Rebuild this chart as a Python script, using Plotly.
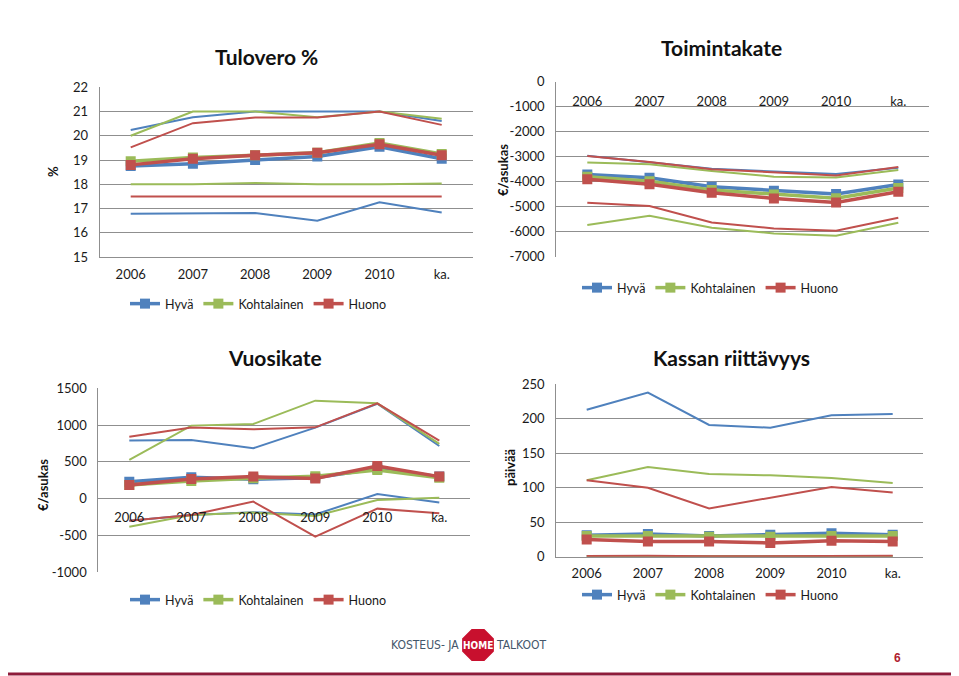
import math
import plotly.graph_objects as go

# The page body has an 8px default margin, so the figure is made 8px smaller
# and every placement below is given in window pixels, shifted by OFF.
WIN_W, WIN_H = 959, 676
OFF = 8
W, H = WIN_W - OFF, WIN_H - OFF
FONT = "Lato, 'Open Sans', sans-serif"

years = ["2006", "2007", "2008", "2009", "2010", "ka."]
groups = ["Hyvä", "Kohtalainen", "Huono"]
colors = {"Hyvä": "#4F81BD", "Kohtalainen": "#9BBB59", "Huono": "#C0504D"}

# ---- Tulovero % ----
tulo_ticks = [15, 16, 17, 18, 19, 20, 21, 22]
tulo_med = {
    "Hyvä": [18.75, 18.85, 19.0, 19.15, 19.55, 19.05],
    "Kohtalainen": [18.95, 19.1, 19.2, 19.3, 19.7, 19.25],
    "Huono": [18.8, 19.05, 19.2, 19.3, 19.65, 19.2],
}
tulo_hi = {
    "Hyvä": [20.24, 20.76, 21.0, 21.0, 21.0, 20.61],
    "Kohtalainen": [20.0, 21.0, 21.0, 20.76, 21.0, 20.7],
    "Huono": [19.52, 20.52, 20.75, 20.75, 21.0, 20.45],
}
tulo_lo = {
    "Hyvä": [16.78, 16.81, 16.81, 16.5, 17.26, 16.84],
    "Kohtalainen": [18.0, 18.0, 18.05, 18.0, 18.0, 18.03],
    "Huono": [17.5, 17.5, 17.5, 17.5, 17.5, 17.5],
}

# ---- Toimintakate ----
toim_ticks = [-7000, -6000, -5000, -4000, -3000, -2000, -1000, 0]
toim_med = {
    "Hyvä": [-3710, -3840, -4200, -4360, -4490, -4110],
    "Kohtalainen": [-3800, -3980, -4330, -4510, -4660, -4250],
    "Huono": [-3900, -4100, -4440, -4670, -4830, -4400],
}
toim_hi = {
    "Hyvä": [-2960, -3230, -3480, -3590, -3690, -3440],
    "Kohtalainen": [-3230, -3300, -3570, -3800, -3830, -3530],
    "Huono": [-2970, -3210, -3500, -3610, -3750, -3410],
}
toim_lo = {
    "Kohtalainen": [-5730, -5360, -5840, -6070, -6160, -5640],
    "Huono": [-4840, -4970, -5630, -5870, -5960, -5440],
}

# ---- Vuosikate ----
vuosi_ticks = [-1000, -500, 0, 500, 1000, 1500]
vuosi_med = {
    "Hyvä": [230, 290, 265, 285, 410, 300],
    "Kohtalainen": [185, 240, 277, 305, 390, 285],
    "Huono": [185, 268, 300, 273, 445, 300],
}
vuosi_hi = {
    "Hyvä": [790, 798, 685, 966, 1290, 716],
    "Kohtalainen": [526, 993, 1015, 1332, 1296, 744],
    "Huono": [843, 966, 943, 970, 1296, 789],
}
vuosi_lo = {
    "Hyvä": [-300, -220, -185, -215, 64, -53],
    "Kohtalainen": [-380, -221, -189, -235, -17, 14],
    "Huono": [-298, -221, -40, -515, -135, -198],
}

# ---- Kassan riittävyys ----
kassa_ticks = [0, 50, 100, 150, 200, 250]
kassa_med = {
    "Hyvä": [31, 33, 30, 32, 34, 32],
    "Kohtalainen": [30, 30, 29, 29, 30, 30],
    "Huono": [25, 22, 22, 20, 23, 22],
}
kassa_hi = {
    "Hyvä": [213, 238, 191, 187, 205, 207],
    "Kohtalainen": [111, 130, 120, 118, 114, 107],
    "Huono": [111, 100, 70, 85, 101, 93],
}
kassa_lo = {
    "Hyvä": [0.5, 0.5, 0.3, 0.3, 0.5, 0.5],
    "Kohtalainen": [0.8, 1.0, 0.4, 0.4, 0.6, 0.8],
    "Huono": [1.0, 1.5, 0.5, 0.5, 1.0, 1.5],
}


def px(x):
    return (x - OFF) / W


def py(y):
    return 1 - (y - OFF) / H


panels = [
    ("", 99.6, 472.8, 87.3, 257.0, tulo_ticks, tulo_med, tulo_hi, tulo_lo, "legend", 5),
    ("2", 556.2, 929.4, 81.7, 256.7, toim_ticks, toim_med, toim_hi, toim_lo, "legend2", 10),
    ("3", 98.3, 470.3, 388.3, 572.3, vuosi_ticks, vuosi_med, vuosi_hi, vuosi_lo, "legend3", 9),
    ("4", 556.1, 923.3, 384.3, 556.7, kassa_ticks, kassa_med, kassa_hi, kassa_lo, "legend4", 5),
]

fig = go.Figure()
layout = dict(
    width=W, height=H, margin=dict(l=0, r=0, t=0, b=0, autoexpand=False),
    paper_bgcolor="white", plot_bgcolor="white",
    font=dict(family=FONT, size=13, color="#1a1a1a"),
    annotations=[], shapes=[],
)

GRID = "#8f8f8f"
for (suf, x0, x1, yt, yb, ticks, med, hi, lo, leg, xstand) in panels:
    xa, ya = "x" + suf, "y" + suf
    for dset in (hi, lo):
        for g in groups:
            if g in dset:
                fig.add_trace(go.Scatter(
                    x=years, y=dset[g], mode="lines", xaxis=xa, yaxis=ya,
                    line=dict(color=colors[g], width=2), showlegend=False,
                    hoverinfo="skip"))
    for g in groups:
        fig.add_trace(go.Scatter(
            x=years, y=med[g], mode="lines+markers", name=g, xaxis=xa, yaxis=ya,
            line=dict(color=colors[g], width=3.5),
            marker=dict(symbol="square", size=10, color=colors[g]),
            legend=leg))
    yr = [ticks[0], ticks[-1]]
    dom_y = [py(yb), py(yt)]
    layout["yaxis" + suf] = dict(
        domain=dom_y, range=yr, tickvals=ticks, ticktext=[str(t) for t in ticks],
        anchor=xa, automargin=False,
        showgrid=True, gridcolor=GRID, gridwidth=1, zeroline=False,
        showline=True, linecolor=GRID, linewidth=1, ticks="", ticklabelstandoff=8,
        tickfont=dict(size=13, color="#1a1a1a"), fixedrange=True)
    xdict = dict(
        domain=[px(x0), px(x1)], type="category", range=[-0.5, 5.5],
        showgrid=False, zeroline=False, ticks="", automargin=False,
        ticklabelstandoff=xstand,
        tickfont=dict(size=13, color="#1a1a1a"), fixedrange=True,
        showline=True, linecolor=GRID, linewidth=1)
    if suf in ("2", "3"):
        # category axis crosses the value axis at 0
        frac = (0 - yr[0]) / (yr[1] - yr[0])
        pos = dom_y[0] + frac * (dom_y[1] - dom_y[0])
        xdict.update(anchor="free", position=pos, side="bottom", showline=False)
    else:
        xdict.update(anchor=ya)
    layout["xaxis" + suf] = xdict

# legends
for key, lx, ly in (("legend", 125, 304), ("legend2", 577, 288),
                    ("legend3", 125, 600), ("legend4", 577, 595)):
    layout[key] = dict(orientation="h", x=px(lx), y=py(ly), xanchor="left",
                       yanchor="middle", font=dict(size=12.5, color="#1a1a1a"),
                       bgcolor="rgba(0,0,0,0)", itemclick=False,
                       itemdoubleclick=False, tracegroupgap=0)

ann = layout["annotations"]
for txt, x, y in (("Tulovero %", 266, 56), ("Toimintakate", 721, 47),
                  ("Vuosikate", 275, 357), ("Kassan riittävyys", 731, 357)):
    ann.append(dict(text="<b>%s</b>" % txt, x=px(x), y=py(y), xref="paper",
                    yref="paper", showarrow=False, xanchor="center",
                    yanchor="middle", font=dict(size=21, color="#111")))
for txt, x, y in (("%", 53, 172), ("€/asukas", 503, 170),
                  ("€/asukas", 43, 485), ("päivää", 510, 468)):
    ann.append(dict(text="<b>%s</b>" % txt, x=px(x), y=py(y), xref="paper",
                    yref="paper", showarrow=False, textangle=-90,
                    xanchor="center", yanchor="middle",
                    font=dict(size=13, color="#111")))

NARROW = "'Liberation Sans Narrow', 'DejaVu Sans Condensed', sans-serif"
ann.append(dict(text="KOSTEUS- JA", x=px(461), y=py(645), xref="paper",
                yref="paper", showarrow=False, xanchor="right", yanchor="middle",
                font=dict(family=NARROW, size=12, color="#44566a")))
ann.append(dict(text="TALKOOT", x=px(494), y=py(645), xref="paper",
                yref="paper", showarrow=False, xanchor="left", yanchor="middle",
                font=dict(family=NARROW, size=12, color="#44566a")))
cx, cy, r = 478, 645, 18
pts = []
for k in range(8):
    a = math.radians(22.5 + 45 * k)
    pts.append((px(cx + r * math.cos(a)), py(cy + r * math.sin(a))))
path = "M " + " L ".join("%f,%f" % p for p in pts) + " Z"
layout["shapes"].append(dict(type="path", path=path, xref="paper", yref="paper",
                             fillcolor="#c8102e", line=dict(color="white", width=1.5)))
ann.append(dict(text="<b>HOME</b>", x=px(cx), y=py(cy), xref="paper",
                yref="paper", showarrow=False, xanchor="center", yanchor="middle",
                font=dict(family=NARROW, size=10, color="white")))
ann.append(dict(text="<b>6</b>", x=px(897), y=py(658), xref="paper",
                yref="paper", showarrow=False, xanchor="center", yanchor="middle",
                font=dict(family="'Liberation Sans', Arial, sans-serif", size=12,
                          color="#b01c2e")))
layout["shapes"].append(dict(type="line", xref="paper", yref="paper",
                             x0=0, x1=1, y0=py(674), y1=py(674),
                             line=dict(color="#8e1b3a", width=3)))

fig.update_layout(**layout)
fig.write_html("out.html")
